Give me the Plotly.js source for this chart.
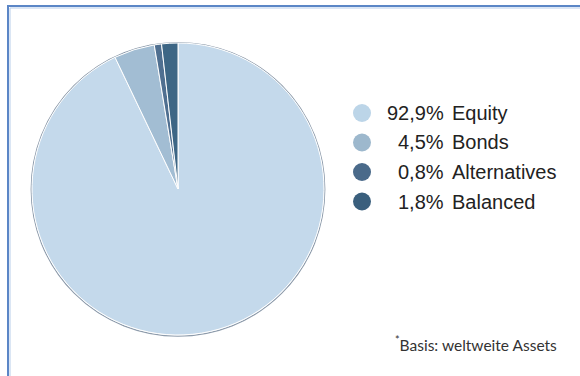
<!DOCTYPE html>
<html>
<head>
<meta charset="utf-8">
<script src="https://cdn.plot.ly/plotly-3.0.1.min.js"></script>
<style>
html,body{margin:0;padding:0;background:#fff;}
#chart{width:580px;height:376px;}
</style>
</head>
<body>
<div id="chart"></div>
<script>
var categories = ["Equity", "Bonds", "Alternatives", "Balanced"];
var values = [92.9, 4.5, 0.8, 1.8];
var footnote = "Basis: weltweite Assets";

var sliceColors = ["#c4d9eb", "#a2bdd3", "#4f6f90", "#3d6685"];
var legendColors = ["#bcd5e8", "#9db8cd", "#4a6a8a", "#3a5f7d"];

var W = 580, H = 376;
function px(x){ return x / W; }
function py(y){ return 1 - y / H; }

var cx = 178, cy = 189, r = 146;

var shapes = [
  {type:"rect", xref:"paper", yref:"paper", x0:px(8), y0:py(420), x1:px(640), y1:py(6),
   line:{color:"#5b86c6", width:2}, fillcolor:"rgba(0,0,0,0)", layer:"above"},
  {type:"rect", xref:"paper", yref:"paper", x0:px(10), y0:py(420), x1:px(640), y1:py(8),
   line:{color:"#b7cdea", width:1}, fillcolor:"rgba(0,0,0,0)", layer:"above"},
  {type:"circle", xref:"paper", yref:"paper", x0:px(cx-r-0.8), x1:px(cx+r+0.8), y0:py(cy+r+1.2), y1:py(cy-r-0.5),
   line:{color:"#8d9bab", width:1.2}, fillcolor:"rgba(0,0,0,0)", layer:"below"}
];
var annotations = [];
var legX = 362, legY0 = 113, legDy = 29.5, legR = 9;
for (var i = 0; i < categories.length; i++) {
  var y = legY0 + i * legDy;
  shapes.push({type:"circle", xref:"paper", yref:"paper",
    x0:px(legX-legR), x1:px(legX+legR), y0:py(y+legR), y1:py(y-legR),
    line:{width:0}, fillcolor:legendColors[i]});
  annotations.push({xref:"paper", yref:"paper", x:px(446), y:py(y), xanchor:"right", yanchor:"middle",
    showarrow:false, text: values[i].toFixed(1).replace(".", ",") + "%",
    font:{family:"Liberation Sans, Arial, sans-serif", size:20, color:"#222"}});
  annotations.push({xref:"paper", yref:"paper", x:px(450), y:py(y), xanchor:"left", yanchor:"middle",
    showarrow:false, text: categories[i],
    font:{family:"Liberation Sans, Arial, sans-serif", size:20, color:"#222"}});
}
annotations.push({xref:"paper", yref:"paper", x:px(559), y:py(343), xanchor:"right", yanchor:"middle",
  showarrow:false, text:"<sup>*</sup>" + footnote,
  font:{family:"Lato, sans-serif", size:15.5, color:"#333"}});

var trace = {
  type:"pie",
  labels:categories,
  values:values,
  sort:false,
  direction:"clockwise",
  rotation:0,
  textinfo:"none",
  hoverinfo:"label+percent",
  marker:{colors:sliceColors, line:{color:"#ffffff", width:1}},
  domain:{x:[px(cx-r), px(cx+r)], y:[py(cy+r), py(cy-r)]},
  showlegend:false
};

Plotly.newPlot("chart", [trace], {
  width:W, height:H,
  margin:{l:0, r:0, t:0, b:0},
  paper_bgcolor:"#ffffff",
  showlegend:false,
  shapes:shapes,
  annotations:annotations
}, {displayModeBar:false, staticPlot:true});
</script>
</body>
</html>
